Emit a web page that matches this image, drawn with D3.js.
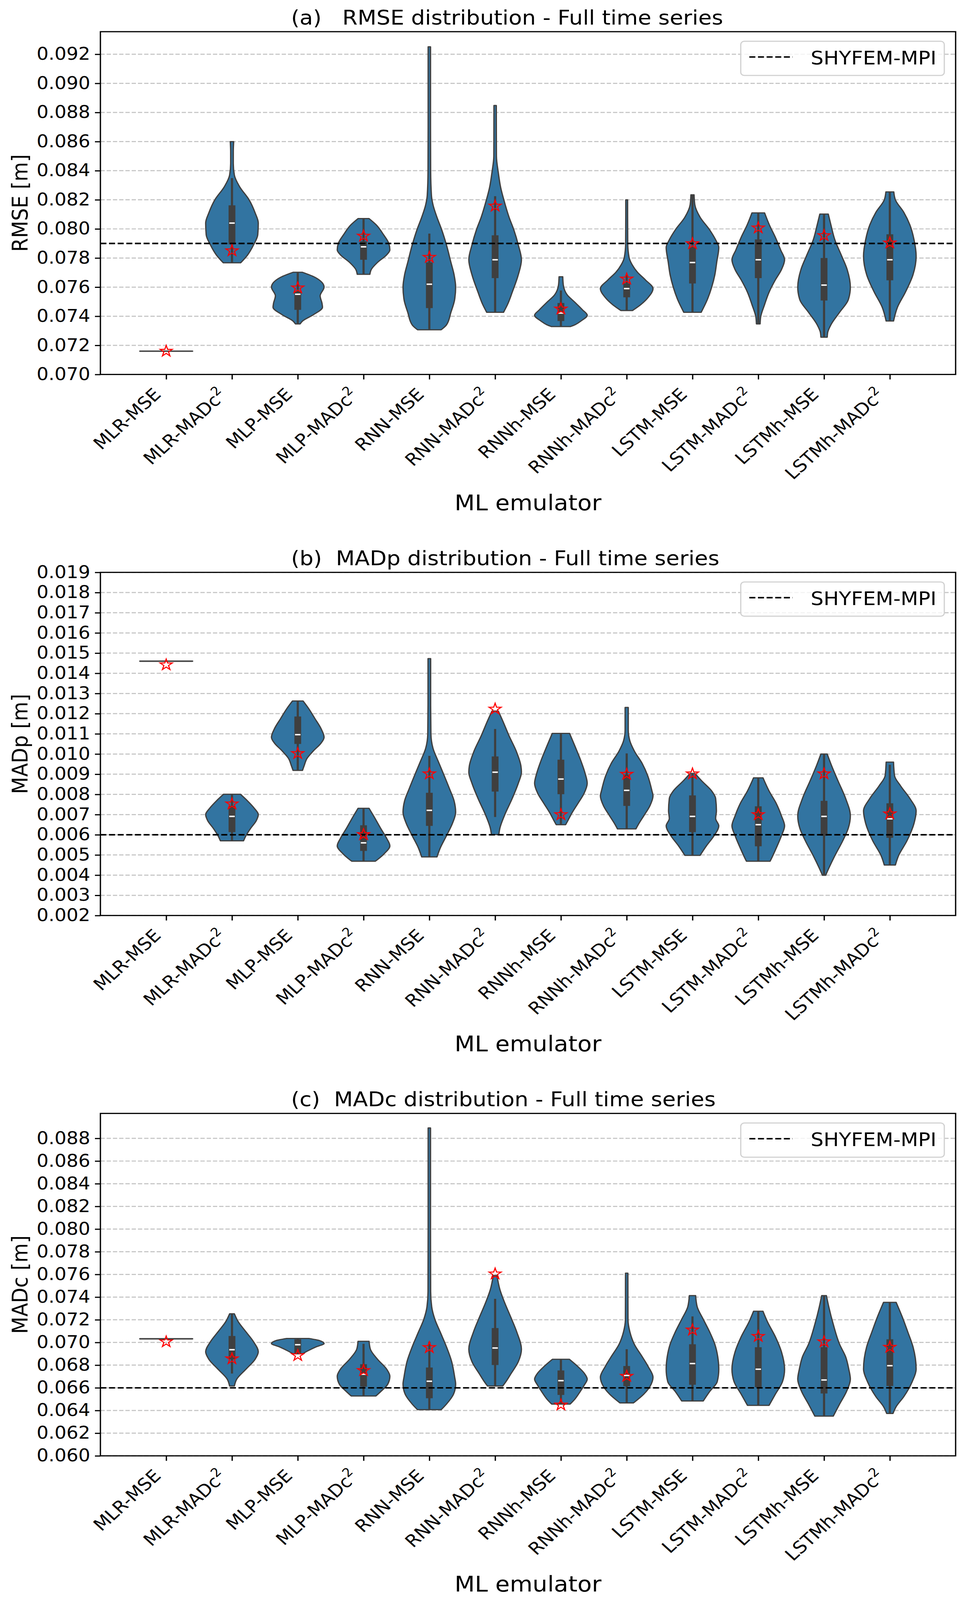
<!DOCTYPE html>
<html>
<head>
<meta charset="utf-8">
<script src="https://cdn.jsdelivr.net/npm/d3@7"></script>
<style>
  html, body { margin: 0; padding: 0; background: #fff; overflow: hidden; }
  svg { display: block; width: 100vw; height: 100vh; }
  text { font-family: "DejaVu Sans", sans-serif; fill: #000; }
</style>
</head>
<body>
<svg id="fig" viewBox="0 0 2470 4495" preserveAspectRatio="none"></svg>
<script>
// categories (x axis)
const emulators = ['MLR-MSE', 'MLR-MADc²', 'MLP-MSE', 'MLP-MADc²', 'RNN-MSE', 'RNN-MADc²',
  'RNNh-MSE', 'RNNh-MADc²', 'LSTM-MSE', 'LSTM-MADc²', 'LSTMh-MSE', 'LSTMh-MADc²'];

// violin outlines: [value, relative half width]
// boxes: [q1, median, q3, whisker low, whisker high]
// stars: metric of the selected run

// (a) RMSE
const rmseTicks = [0.070, 0.072, 0.074, 0.076, 0.078, 0.080, 0.082, 0.084, 0.086, 0.088, 0.090, 0.092];
const rmseRef = 0.079;
const rmseProfiles = [
  [[0.0716, 1], [0.0716, 1]],
  [[0.07767, .33], [0.0782, .59], [0.0789, .82], [0.0796, .98], [0.0804, 1], [0.0811, .88], [0.0820, .65], [0.0829, .29], [0.0837, .09], [0.0845, .05], [0.0853, .05], [0.0860, .065]],
  [[0.07347, .09], [0.07367, .18], [0.0741, .59], [0.07462, .94], [0.0749, .92], [0.0754, .85], [0.0760, 1], [0.07668, .65], [0.07702, .18]],
  [[0.07688, .24], [0.0772, .29], [0.0777, .53], [0.07822, .88], [0.07856, 1], [0.0790, .96], [0.0796, .76], [0.0803, .47], [0.08071, .21]],
  [[0.07307, .45], [0.0734, .65], [0.07427, .82], [0.07513, .96], [0.0760, 1], [0.07685, .94], [0.0777, .82], [0.0789, .65], [0.07994, .47], [0.0808, .29], [0.08165, .14], [0.0823, .08], [0.0840, .05], [0.0870, .045], [0.0910, .045], [0.09251, .045]],
  [[0.07427, .32], [0.0748, .47], [0.07565, .65], [0.07685, .88], [0.07788, 1], [0.0789, .88], [0.07994, .71], [0.0808, .53], [0.0820, .33], [0.08285, .21], [0.08388, .12], [0.0850, .05], [0.08848, .045]],
  [[0.07329, .36], [0.07341, .53], [0.07367, .76], [0.07407, 1], [0.07444, .82], [0.07496, .53], [0.07547, .24], [0.07616, .09], [0.07671, .07]],
  [[0.07439, .22], [0.07479, .53], [0.0753, .82], [0.0759, 1], [0.0765, .71], [0.07702, .41], [0.07753, .21], [0.07805, .09], [0.0790, .04], [0.0810, .035], [0.0820, .035]],
  [[0.07427, .33], [0.07513, .56], [0.0760, .73], [0.07685, .85], [0.0777, .92], [0.07873, 1], [0.07925, .88], [0.07994, .65], [0.0808, .29], [0.08165, .09], [0.08234, .06]],
  [[0.07347, .07], [0.07394, .09], [0.0748, .24], [0.07565, .41], [0.0765, .65], [0.0772, .88], [0.07788, 1], [0.07856, .85], [0.07942, .65], [0.08028, .42], [0.0811, .24]],
  [[0.07256, .12], [0.0729, .14], [0.07341, .26], [0.07427, .59], [0.07513, .92], [0.0760, 1], [0.0772, .88], [0.07822, .65], [0.07925, .41], [0.08028, .26], [0.08102, .16]],
  [[0.07367, .14], [0.07462, .29], [0.07565, .59], [0.07685, .88], [0.07813, 1], [0.07925, .92], [0.08028, .76], [0.08114, .53], [0.0820, .21], [0.08254, .15]]
];
const rmseBoxes = [
  null,
  [0.07894, 0.0804, 0.08162, 0.07767, 0.08349],
  [0.07444, 0.07551, 0.07573, 0.07347, 0.07702],
  [0.07788, 0.07877, 0.07915, 0.07688, 0.08071],
  [0.07456, 0.0762, 0.0777, 0.07307, 0.07968],
  [0.07662, 0.07788, 0.07956, 0.07427, 0.08225],
  [0.07367, 0.07422, 0.07491, 0.07329, 0.07577],
  [0.0753, 0.0759, 0.07625, 0.07439, 0.07685],
  [0.07625, 0.07769, 0.07873, 0.07427, 0.08234],
  [0.07662, 0.07788, 0.07928, 0.07347, 0.0811],
  [0.07508, 0.07614, 0.078, 0.07256, 0.08102],
  [0.07647, 0.07788, 0.07963, 0.07367, 0.08254]
];
const rmseStars = [0.0716, 0.0785, 0.07595, 0.07951, 0.07805, 0.08157, 0.0745, 0.07656, 0.07899, 0.08007, 0.07954, 0.07904];

// (b) MADp
const madpTicks = [0.002, 0.003, 0.004, 0.005, 0.006, 0.007, 0.008, 0.009, 0.010, 0.011, 0.012, 0.013, 0.014, 0.015, 0.016, 0.017, 0.018, 0.019];
const madpRef = 0.006;
const madpProfiles = [
  [[0.0146, 1], [0.0146, 1]],
  [[0.0057, .44], [0.00595, .53], [0.00632, .71], [0.00669, .92], [0.0070, 1], [0.00731, .85], [0.00768, .59], [0.00801, .32]],
  [[0.00919, .18], [0.00941, .24], [0.00978, .35], [0.01015, .59], [0.01053, .88], [0.01083, 1], [0.01127, .88], [0.01176, .65], [0.01226, .41], [0.01263, .2]],
  [[0.00469, .45], [0.00483, .59], [0.00508, .8], [0.00545, 1], [0.00582, .88], [0.00632, .65], [0.00694, .38], [0.00731, .21]],
  [[0.0049, .29], [0.00533, .41], [0.00595, .65], [0.00657, .88], [0.00712, 1], [0.00768, .94], [0.0083, .76], [0.00904, .53], [0.00966, .33], [0.01028, .14], [0.0110, .06], [0.0125, .05], [0.01473, .05]],
  [[0.00601, .14], [0.00632, .18], [0.00694, .35], [0.0078, .65], [0.00855, .88], [0.0091, 1], [0.00941, .98], [0.01015, .8], [0.0109, .53], [0.01164, .29], [0.01213, .12]],
  [[0.0065, .18], [0.00669, .26], [0.00706, .41], [0.00756, .65], [0.00805, .88], [0.00855, 1], [0.00904, .92], [0.00966, .76], [0.0104, .53], [0.01102, .33]],
  [[0.00629, .35], [0.00657, .47], [0.00694, .65], [0.00743, .88], [0.00793, 1], [0.00817, .96], [0.00892, .8], [0.00953, .59], [0.01015, .29], [0.01065, .12], [0.0112, .06], [0.01231, .06]],
  [[0.00498, .29], [0.00545, .53], [0.00595, .82], [0.00644, 1], [0.00681, .88], [0.00718, .91], [0.0078, .88], [0.00817, .73], [0.00867, .35], [0.00904, .09]],
  [[0.00469, .45], [0.0049, .53], [0.00533, .68], [0.00595, .88], [0.00644, 1], [0.00694, .88], [0.00756, .68], [0.00817, .41], [0.00882, .18]],
  [[0.00399, .06], [0.00434, .18], [0.00496, .41], [0.0057, .71], [0.00632, .92], [0.00694, 1], [0.0078, .82], [0.00867, .53], [0.00941, .29], [0.0100, .12]],
  [[0.0045, .21], [0.00496, .33], [0.0057, .65], [0.00657, .92], [0.00718, 1], [0.0078, .76], [0.00842, .41], [0.00892, .18], [0.0096, .14]]
];
const madpBoxes = [
  null,
  [0.00613, 0.00691, 0.00743, 0.0057, 0.00801],
  [0.0105, 0.01096, 0.01186, 0.00919, 0.01263],
  [0.0052, 0.0056, 0.00647, 0.00469, 0.00731],
  [0.00644, 0.00721, 0.00808, 0.0049, 0.00991],
  [0.00814, 0.0091, 0.00988, 0.00688, 0.01124],
  [0.00801, 0.00876, 0.00972, 0.0065, 0.01102],
  [0.00743, 0.0082, 0.00898, 0.00629, 0.01003],
  [0.00613, 0.00691, 0.00795, 0.00498, 0.00904],
  [0.00543, 0.0065, 0.00741, 0.00469, 0.00882],
  [0.00595, 0.00691, 0.00768, 0.00399, 0.0100],
  [0.00585, 0.00679, 0.00756, 0.0045, 0.00947]
];
const madpStars = [0.01442, 0.00753, 0.01003, 0.00601, 0.00902, 0.01223, 0.0070, 0.0090, 0.00902, 0.0070, 0.00902, 0.00704];

// (c) MADc
const madcTicks = [0.060, 0.062, 0.064, 0.066, 0.068, 0.070, 0.072, 0.074, 0.076, 0.078, 0.080, 0.082, 0.084, 0.086, 0.088];
const madcRef = 0.066;
const madcProfiles = [
  [[0.07032, 1], [0.07032, 1]],
  [[0.06616, .09], [0.06676, .18], [0.06764, .53], [0.06852, .88], [0.06918, 1], [0.07006, .82], [0.07094, .53], [0.07182, .24], [0.07253, .09]],
  [[0.0690, .18], [0.06929, .41], [0.06962, .71], [0.0699, 1], [0.07017, .82], [0.07035, .42]],
  [[0.06528, .47], [0.06566, .65], [0.06632, .92], [0.06702, 1], [0.06764, .88], [0.06852, .53], [0.0694, .26], [0.0701, .21]],
  [[0.06407, .45], [0.06456, .65], [0.06544, .92], [0.06632, 1], [0.06698, .96], [0.0683, .85], [0.06962, .65], [0.07094, .41], [0.07204, .21], [0.07314, .09], [0.0745, .05], [0.0800, .045], [0.08892, .045]],
  [[0.06616, .29], [0.06654, .41], [0.0672, .59], [0.0683, .88], [0.0694, 1], [0.07094, .82], [0.07226, .59], [0.07358, .35], [0.07468, .18], [0.0759, .07]],
  [[0.06456, .35], [0.0650, .53], [0.06566, .73], [0.06621, .88], [0.06676, 1], [0.06731, .88], [0.06786, .65], [0.06852, .32]],
  [[0.06467, .26], [0.06544, .65], [0.0661, .88], [0.06693, 1], [0.06786, .82], [0.06874, .59], [0.06984, .29], [0.07094, .12], [0.0720, .05], [0.07611, .045]],
  [[0.06484, .41], [0.06566, .65], [0.06654, .94], [0.06764, 1], [0.06874, .96], [0.06984, .85], [0.07094, .65], [0.07204, .41], [0.07314, .18], [0.07413, .12]],
  [[0.06445, .41], [0.06544, .65], [0.06654, .92], [0.06764, 1], [0.06918, .88], [0.0705, .65], [0.07182, .35], [0.07275, .18]],
  [[0.0635, .35], [0.06456, .59], [0.06566, .85], [0.06676, 1], [0.06764, .94], [0.06874, .82], [0.06984, .59], [0.0716, .35], [0.07314, .18], [0.07413, .09]],
  [[0.06374, .12], [0.06434, .24], [0.06522, .53], [0.06654, .85], [0.06764, 1], [0.06962, .88], [0.07094, .68], [0.07226, .47], [0.07354, .24]]
];
const madcBoxes = [
  null,
  [0.06852, 0.06936, 0.07057, 0.06726, 0.07253],
  [0.0690, 0.0698, 0.07028, 0.0690, 0.07035],
  [0.0661, 0.0672, 0.06808, 0.06528, 0.06988],
  [0.06508, 0.06658, 0.06779, 0.06407, 0.07006],
  [0.06801, 0.06951, 0.07127, 0.06616, 0.07385],
  [0.06537, 0.06663, 0.06753, 0.06456, 0.06852],
  [0.06614, 0.06709, 0.06792, 0.06467, 0.0694],
  [0.06627, 0.06814, 0.06984, 0.06484, 0.0723],
  [0.06605, 0.06764, 0.06958, 0.06445, 0.07275],
  [0.0655, 0.06669, 0.06958, 0.0635, 0.07413],
  [0.06616, 0.06795, 0.07028, 0.06374, 0.07354]
];
const madcStars = [0.07006, 0.06856, 0.06885, 0.06753, 0.06955, 0.07605, 0.06449, 0.06702, 0.0711, 0.07054, 0.07006, 0.06958];

const panels = [
  { title: '(a)   RMSE distribution - Full time series', ylabel: 'RMSE [m]', top: 89, bottom: 1052,
    domain: [0.070, 0.09355], ticks: rmseTicks, ref: rmseRef, profiles: rmseProfiles, boxes: rmseBoxes, stars: rmseStars },
  { title: '(b)  MADp distribution - Full time series', ylabel: 'MADp [m]', top: 1608, bottom: 2572,
    domain: [0.002, 0.019], ticks: madpTicks, ref: madpRef, profiles: madpProfiles, boxes: madpBoxes, stars: madpStars },
  { title: '(c)  MADc distribution - Full time series', ylabel: 'MADc [m]', top: 3128, bottom: 4090,
    domain: [0.060, 0.0902], ticks: madcTicks, ref: madcRef, profiles: madcProfiles, boxes: madcBoxes, stars: madcStars }
];

const svg = d3.select('#fig');
const xLeft = 257, xRight = 2446;
const x = d3.scaleLinear().domain([-1, 12]).range([xLeft, xRight]);
const step = x(1) - x(0);
const halfMax = 0.4 * step;
const violinFill = '#3274a1';
const darkGray = '#3f3f3f';

function drawPanel(p) {
  const g = svg.append('g');
  const y = d3.scaleLinear().domain(p.domain).range([p.bottom, p.top]);

  // horizontal grid
  g.append('g').selectAll('line').data(p.ticks).join('line')
    .attr('x1', xLeft).attr('x2', xRight)
    .attr('y1', (d) => y(d)).attr('y2', (d) => y(d))
    .attr('stroke', '#c4c4c4').attr('stroke-width', 3)
    .attr('stroke-dasharray', '11,5');

  // violins
  p.profiles.forEach((prof, i) => {
    const cx = x(i);
    const area = d3.area().curve(d3.curveMonotoneY)
      .y((d) => y(d[0]))
      .x0((d) => cx - d[1] * halfMax)
      .x1((d) => cx + d[1] * halfMax);
    g.append('path').attr('d', area(prof))
      .attr('fill', violinFill).attr('stroke', darkGray)
      .attr('stroke-width', prof[0][0] === prof[prof.length - 1][0] ? 4 : 3.3)
      .attr('stroke-linejoin', 'round');

    const b = p.boxes[i];
    if (b) {
      g.append('line').attr('x1', cx).attr('x2', cx)
        .attr('y1', y(b[3])).attr('y2', y(b[4]))
        .attr('stroke', darkGray).attr('stroke-width', 5.5);
      g.append('rect').attr('x', cx - 8.7).attr('width', 17.4)
        .attr('y', y(b[2])).attr('height', y(b[0]) - y(b[2]))
        .attr('fill', darkGray);
      g.append('rect').attr('x', cx - 7).attr('width', 14)
        .attr('y', y(b[1]) - 2).attr('height', 4)
        .attr('fill', '#fff');
    }
  });

  // reference line
  g.append('line').attr('x1', xLeft).attr('x2', xRight)
    .attr('y1', y(p.ref)).attr('y2', y(p.ref))
    .attr('stroke', '#000').attr('stroke-width', 4.2)
    .attr('stroke-dasharray', '15.4,6.7');

  // stars
  const star = d3.symbol(d3.symbolStar, 300);
  g.append('g').selectAll('path').data(p.stars).join('path')
    .attr('d', star)
    .attr('transform', (d, i) => `translate(${x(i)},${y(d)})`)
    .attr('fill', 'none').attr('stroke', '#ff0000').attr('stroke-width', 2.8);

  // y axis
  const yAxis = g.append('g').attr('transform', `translate(${xLeft},0)`)
    .call(d3.axisLeft(y).tickValues(p.ticks).tickFormat(d3.format('.3f'))
      .tickSize(14).tickSizeOuter(0).tickPadding(12));
  yAxis.select('.domain').remove();
  yAxis.selectAll('line').attr('stroke', '#000').attr('stroke-width', 3.3);
  yAxis.selectAll('text').attr('font-size', 48).attr('font-family', '"DejaVu Sans", sans-serif');

  // x axis
  const xAxis = g.append('g').attr('transform', `translate(0,${p.bottom})`)
    .call(d3.axisBottom(x).tickValues(d3.range(emulators.length)).tickFormat('')
      .tickSize(14).tickSizeOuter(0));
  xAxis.select('.domain').remove();
  xAxis.selectAll('line').attr('stroke', '#000').attr('stroke-width', 3.3);

  // rotated category labels
  emulators.forEach((name, i) => {
    const sup = name.endsWith('²');
    const dx = -11;
    const dy = sup ? 61 : 59;
    const t = g.append('text')
      .attr('transform', `translate(${x(i) + dx},${p.bottom + dy}) rotate(-45)`)
      .attr('text-anchor', 'end').attr('font-size', 48);
    if (sup) {
      t.append('tspan').text(name.slice(0, -1));
      t.append('tspan').attr('font-size', 34).attr('dy', -20).text('2');
    } else {
      t.text(name);
    }
  });

  // frame
  g.append('rect').attr('x', xLeft).attr('y', p.top)
    .attr('width', xRight - xLeft).attr('height', p.bottom - p.top)
    .attr('fill', 'none').attr('stroke', '#000').attr('stroke-width', 3.3);

  // labels
  g.append('text').attr('x', 745).attr('y', p.top - 20)
    .attr('font-size', 56).style('white-space', 'pre').text(p.title);
  g.append('text').attr('transform', `translate(70,${(p.top + p.bottom) / 2}) rotate(-90)`)
    .attr('text-anchor', 'middle').attr('font-size', 56).text(p.ylabel);
  g.append('text').attr('x', (xLeft + xRight) / 2).attr('y', p.bottom + 381)
    .attr('text-anchor', 'middle').attr('font-size', 60).text('ML emulator');

  // legend
  const lg = g.append('g').attr('transform', `translate(1896,${p.top + 27})`);
  lg.append('rect').attr('width', 521).attr('height', 96).attr('rx', 9)
    .attr('fill', '#fff').attr('fill-opacity', 0.8)
    .attr('stroke', '#d0d0d0').attr('stroke-width', 3);
  lg.append('line').attr('x1', 22).attr('x2', 133).attr('y1', 44).attr('y2', 44)
    .attr('stroke', '#000').attr('stroke-width', 4.2).attr('stroke-dasharray', '15.4,6.7');
  lg.append('text').attr('x', 179).attr('y', 65).attr('font-size', 52).text('SHYFEM-MPI');
}

panels.forEach(drawPanel);
</script>
</body>
</html>
